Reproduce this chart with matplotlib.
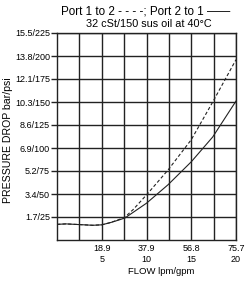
import matplotlib
matplotlib.use("Agg")
import matplotlib.pyplot as plt
import numpy as np

plt.rcParams['font.family'] = ['Liberation Sans', 'DejaVu Sans']

# data (flow in gpm, pressure in psi)
solid_gpm = [0, 1, 2, 3, 4, 5, 6, 7, 7.6, 8.5, 10, 12.4, 15, 17.4, 20]
solid_psi = [17, 17.5, 17, 16.5, 16, 16.5, 19, 22, 24, 30, 40, 60, 85, 112, 151]
dash_gpm = [0, 1, 2, 3, 4, 5, 6, 7, 7.6, 8.5, 10, 12.4, 15, 17.4, 20]
dash_psi = [17, 17.5, 17, 16.5, 16, 16.5, 19, 22.5, 25, 33, 49, 76, 109, 150, 196]

x_ticks = [5, 10, 15, 20]
x_labels = ["18.9\n5", "37.9\n10", "56.8\n15", "75.7\n20"]
y_ticks = [25, 50, 75, 100, 125, 150, 175, 200, 225]
y_labels = ["1.7/25", "3.4/50", "5.2/75", "6.9/100", "8.6/125",
            "10.3/150", "12.1/175", "13.8/200", "15.5/225"]

W, H = 245, 282
fig = plt.figure(figsize=(W/100, H/100), dpi=100)
ax = fig.add_axes([57/W, 1-240/H, 179/W, 207/H])

ax.plot(solid_gpm, solid_psi, color='#222222', lw=0.8)
ax.plot(dash_gpm, dash_psi, color='#222222', lw=0.8, ls=(0, (3, 2)))

ax.set_xlim(0, 20)
ax.set_ylim(0, 225)
ax.set_xticks(np.arange(2.5, 20, 2.5), minor=True)
ax.set_xticks(x_ticks)
ax.set_xticklabels(x_labels, fontsize=6.5)
ax.set_yticks(y_ticks)
ax.set_yticklabels(y_labels, fontsize=6.5)
ax.tick_params(axis='x', which='both', length=0, pad=3)
ax.tick_params(axis='y', length=4, width=1, color='#222222', pad=1)
ax.grid(True, which='both', color='#222222', lw=1)
for s in ax.spines.values():
    s.set_color('#222222')
    s.set_linewidth(1)

fig.text(145.5/W, 1-12/H, "Port 1 to 2 - - - -; Port 2 to 1 \u2014\u2014", ha='center', va='center', fontsize=8.4)
fig.text(149/W, 1-24/H, "32 cSt/150 sus oil at 40\u00b0C", ha='center', va='center', fontsize=7.8)
fig.text(161/W, 1-271/H, "FLOW lpm/gpm", ha='center', va='center', fontsize=6.8)
fig.text(8/W, 1-140/H, "PRESSURE DROP bar/psi", ha='center', va='center', rotation=90, fontsize=7.6)

fig.savefig("out.png", dpi=100)
